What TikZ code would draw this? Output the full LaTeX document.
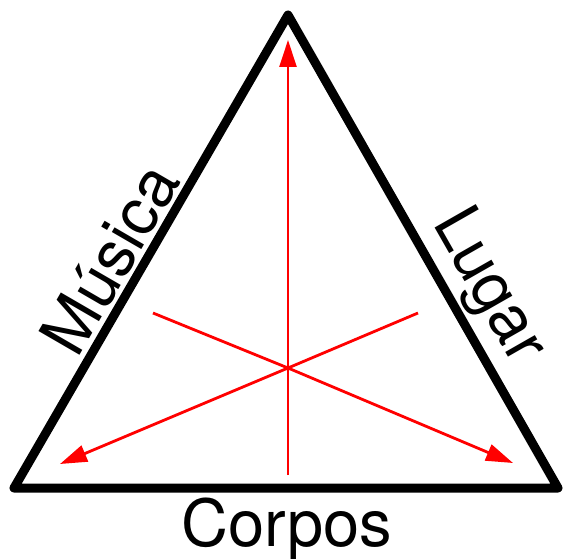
\documentclass[tikz,border=0pt]{standalone}
\usepackage{fontspec}
\setmainfont{TeX Gyre Heros}
\usetikzlibrary{arrows.meta,calc}
\tikzset{
  edge/.style={draw=black, line width=9pt, line join=round},
  redarrow/.style={draw=red, line width=2.8pt, -{Triangle[length=27pt,width=17pt]}},
  lbl/.style={font=\fontsize{65}{78}\selectfont, inner sep=0pt, anchor=base}
}
\begin{document}
\begin{tikzpicture}[x=1pt,y=-1pt]
\useasboundingbox (0,0) rectangle (563,559);
\coordinate (T) at (288,15);
\coordinate (BL) at (14,488);
\coordinate (BR) at (558,488);
\coordinate (C) at (288,368);
\coordinate (vs) at (288,475);
\coordinate (vt) at (288,40);
\coordinate (ls) at (418,313);
\coordinate (lt) at (60,464);
\coordinate (rs) at (153,313);
\coordinate (rt) at (513,463);
\draw[edge] (T) -- (BL) -- (BR) -- cycle;
\draw[redarrow] (vs) -- (C) -- (vt);
\draw[redarrow] (ls) -- (C) -- (lt);
\draw[redarrow] (rs) -- (C) -- (rt);
\coordinate (mL) at ($(BL)!0.45!(T)$);
\coordinate (mR) at ($(T)!0.615!(BR)$);
\coordinate (pL) at ($(mL)!9pt!90:(T)$);
\coordinate (pR) at ($(mR)!22pt!-90:(T)$);
\node[lbl, rotate=59.9] (musica) at (pL) {Música};
\node[lbl, rotate=-60.3] (lugar) at (pR) {Lugar};
\node[lbl] (corpos) at (287,546) {Corpos};
\end{tikzpicture}
\end{document}
